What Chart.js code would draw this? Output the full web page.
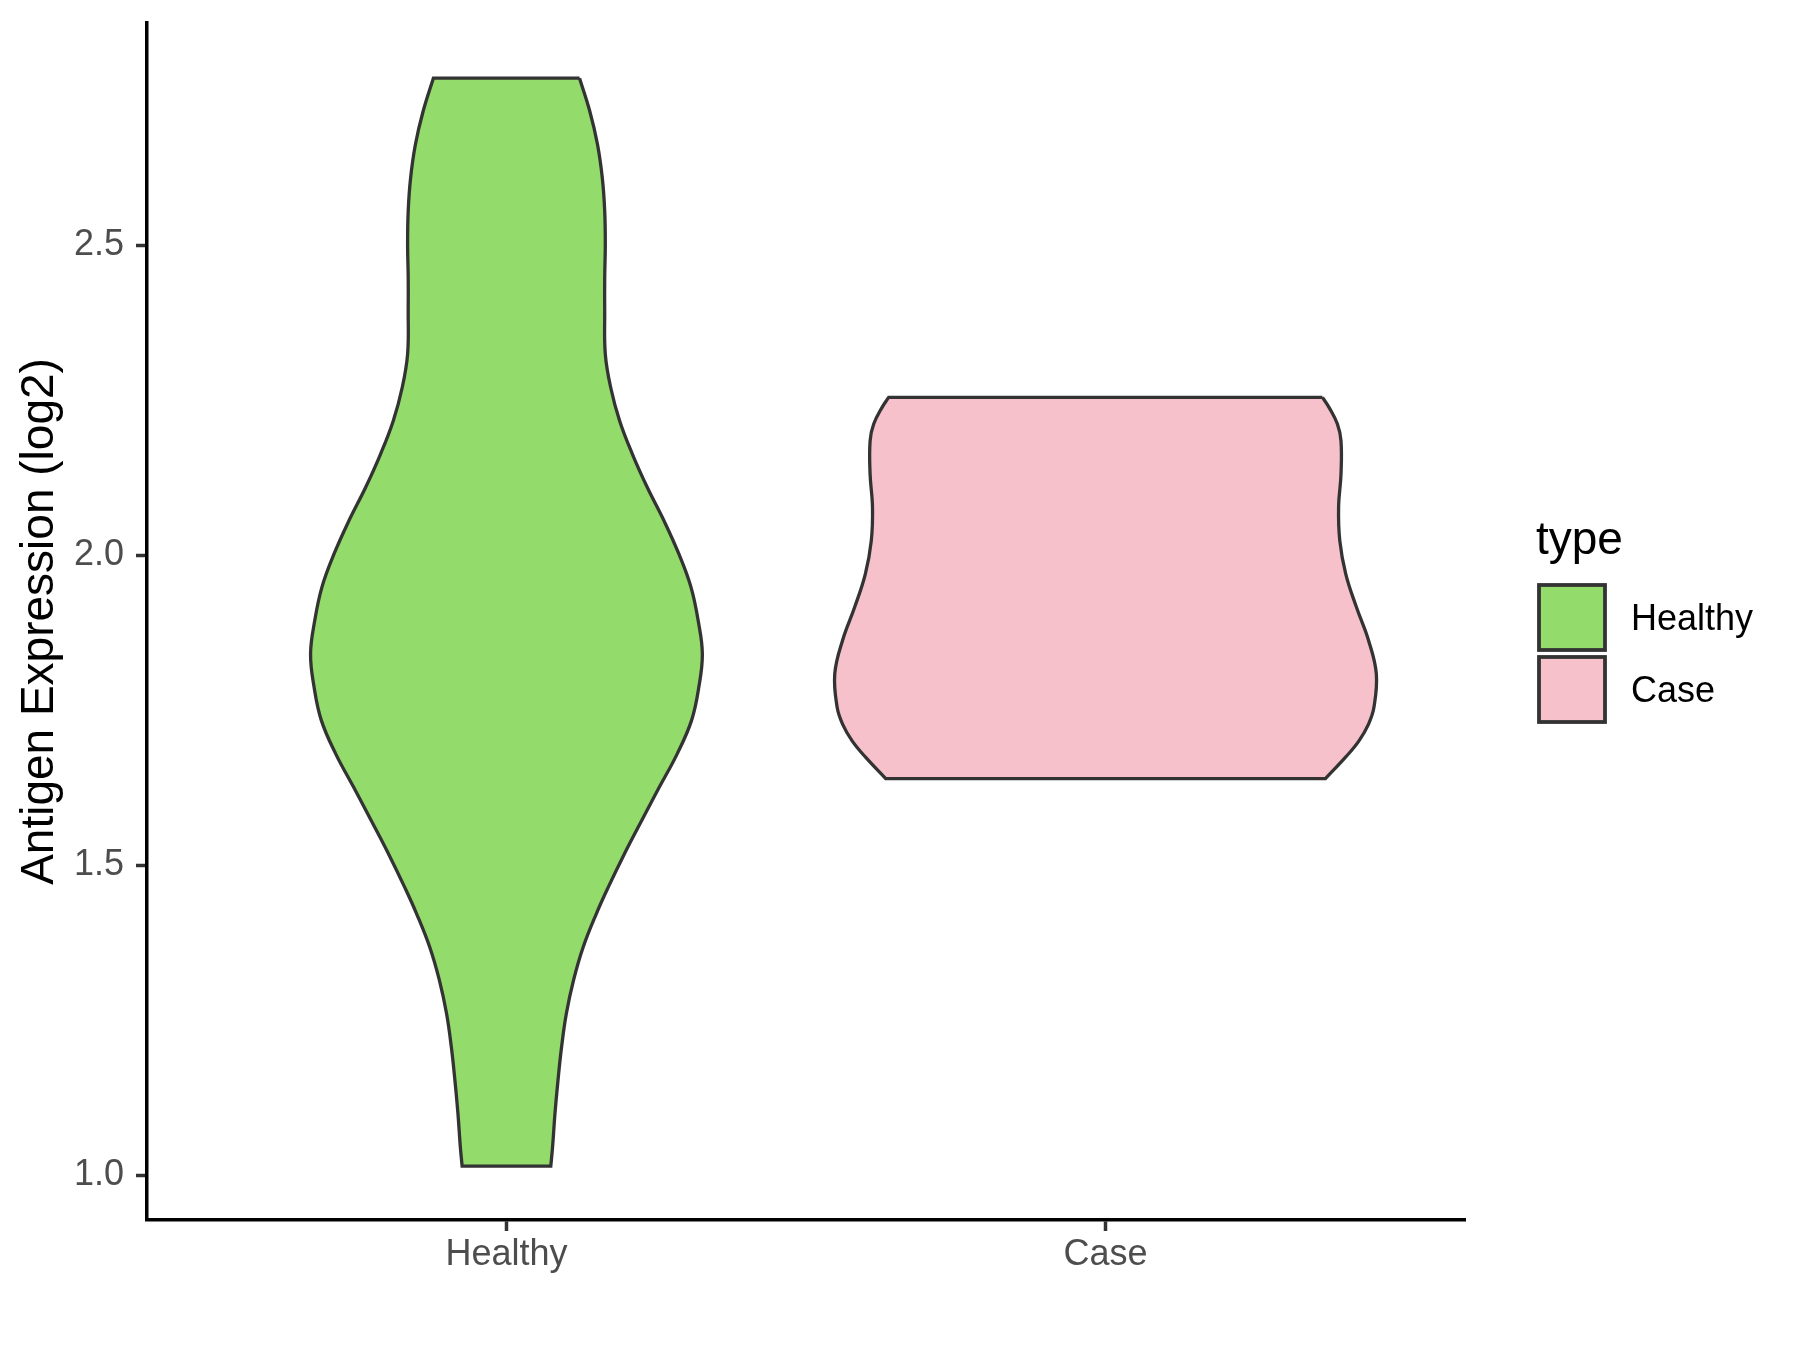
<!DOCTYPE html>
<html>
<head>
<meta charset="utf-8">
<script src="https://cdn.jsdelivr.net/npm/chart.js@4.4.1/dist/chart.umd.min.js"></script>
<style>
  html, body { margin: 0; padding: 0; background: #fff; }
  #wrap { width: 1800px; height: 1350px; }
</style>
</head>
<body>
<div id="wrap"><canvas id="violin" width="1800" height="1350"></canvas></div>
<script>
// categories on the x axis (positions 1 and 2)
const categories = ['Healthy', 'Case'];
const yTicks = [1.0, 1.5, 2.0, 2.5];

// violin outlines: expression value and half width (x units)
const healthyY = [2.770, 2.717, 2.663, 2.609, 2.556, 2.502, 2.448, 2.395, 2.325, 2.271, 2.217, 2.164, 2.110,
  2.056, 2.002, 1.949, 1.895, 1.841, 1.787, 1.734, 1.680, 1.626, 1.573, 1.519, 1.465, 1.422, 1.368, 1.315,
  1.261, 1.207, 1.153, 1.100, 1.046, 1.015];
const healthyHalfWidth = [0.122, 0.139, 0.152, 0.160, 0.164, 0.165, 0.164, 0.164, 0.165, 0.174, 0.189, 0.210, 0.235,
  0.263, 0.288, 0.308, 0.320, 0.327, 0.321, 0.309, 0.285, 0.255, 0.226, 0.197, 0.170, 0.150, 0.128, 0.112,
  0.100, 0.092, 0.086, 0.081, 0.077, 0.074];

const caseY = [2.255, 2.239, 2.212, 2.185, 2.131, 2.078, 2.024, 1.970, 1.916, 1.863, 1.809, 1.755, 1.728,
  1.701, 1.675, 1.640];
const caseHalfWidth = [0.362, 0.373, 0.387, 0.393, 0.393, 0.389, 0.391, 0.401, 0.419, 0.439, 0.452, 0.448, 0.439,
  0.423, 0.401, 0.367];

const colors = ['#93DB6B', '#F7C1CC'];
const FONT = '"Liberation Sans", Arial, sans-serif';

// closed outline: right side down, left side up; corners doubled so flat ends stay straight
function violinPoints(center, ys, hw) {
  const n = ys.length;
  const pts = [{x: center + hw[0], y: ys[0]}];
  for (let i = 0; i < n; i++) pts.push({x: center + hw[i], y: ys[i]});
  pts.push({x: center + hw[n - 1], y: ys[n - 1]});
  pts.push({x: center - hw[n - 1], y: ys[n - 1]});
  for (let i = n - 1; i >= 0; i--) pts.push({x: center - hw[i], y: ys[i]});
  pts.push({x: center - hw[0], y: ys[0]});
  pts.push({x: center + hw[0], y: ys[0]});
  pts.push({x: center + hw[0], y: ys[0]});
  return pts;
}

function violinDataset(label, idx, ys, hw) {
  return {
    label: label,
    data: violinPoints(idx + 1, ys, hw),
    backgroundColor: colors[idx],
    borderColor: '#333333',
    borderWidth: 3.3,
    borderJoinStyle: 'miter',
    fill: 'shape',
    tension: 0.4,
    pointRadius: 0,
    pointHoverRadius: 0
  };
}

// legend drawn to the right, like ggplot's "type" guide
const sideLegend = {
  id: 'sideLegend',
  afterDraw(chart) {
    const ctx = chart.ctx;
    ctx.save();
    ctx.fillStyle = '#000';
    ctx.font = '46px ' + FONT;
    ctx.textAlign = 'left';
    ctx.textBaseline = 'alphabetic';
    ctx.fillText('type', 1536, 554);
    chart.data.datasets.forEach((ds, i) => {
      const top = 585 + i * 72;
      ctx.fillStyle = ds.backgroundColor;
      ctx.fillRect(1539, top, 66, 65);
      ctx.strokeStyle = '#333333';
      ctx.lineWidth = 3.8;
      ctx.strokeRect(1539, top, 66, 65);
      ctx.fillStyle = '#000';
      ctx.font = '36px ' + FONT;
      ctx.textBaseline = 'middle';
      ctx.fillText(ds.label, 1631, top + 35);
    });
    ctx.restore();
  }
};

new Chart(document.getElementById('violin'), {
  type: 'line',
  data: {
    datasets: [
      violinDataset(categories[0], 0, healthyY, healthyHalfWidth),
      violinDataset(categories[1], 1, caseY, caseHalfWidth)
    ]
  },
  options: {
    responsive: false,
    animation: false,
    devicePixelRatio: 1,
    layout: { padding: { top: 23, right: 335, bottom: 0, left: 0 } },
    plugins: {
      legend: { display: false },
      tooltip: { enabled: false }
    },
    scales: {
      x: {
        type: 'linear',
        min: 0.4,
        max: 2.6,
        afterBuildTicks: (axis) => { axis.ticks = categories.map((c, i) => ({value: i + 1})); },
        afterFit: (axis) => { axis.height = 130; axis.paddingLeft = 0; axis.paddingRight = 0; },
        ticks: {
          callback: (v) => categories[Math.round(v) - 1],
          color: '#4D4D4D',
          font: { family: FONT, size: 36 },
          padding: 2,
          maxRotation: 0
        },
        grid: { drawOnChartArea: false, drawTicks: true, tickLength: 11, tickColor: '#333333', tickWidth: 3.5 },
        border: { display: true, color: '#000', width: 3.5 }
      },
      y: {
        min: 0.928,
        max: 2.859,
        afterBuildTicks: (axis) => { axis.ticks = yTicks.map(v => ({value: v})); },
        afterFit: (axis) => { axis.width = 147; axis.paddingTop = 0; axis.paddingBottom = 0; },
        ticks: {
          callback: (v) => Number(v).toFixed(1),
          color: '#4D4D4D',
          font: { family: FONT, size: 36 },
          padding: 12
        },
        grid: { drawOnChartArea: false, drawTicks: true, tickLength: 11, tickColor: '#333333', tickWidth: 3.5 },
        border: { display: true, color: '#000', width: 3.5 },
        title: {
          display: true,
          text: 'Antigen Expression (log2)',
          color: '#000',
          font: { family: FONT, size: 46, lineHeight: 1.2 },
          padding: { top: 13, bottom: 0 }
        }
      }
    }
  },
  plugins: [sideLegend]
});
</script>
</body>
</html>
